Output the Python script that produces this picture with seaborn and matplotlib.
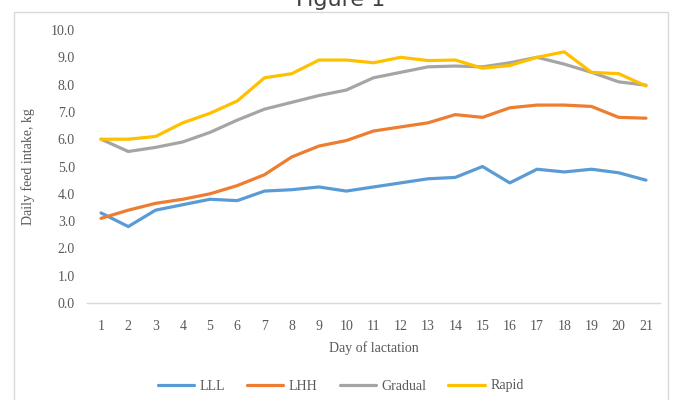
import numpy as np
import pandas as pd
import matplotlib
matplotlib.use("Agg")
import matplotlib.pyplot as plt
import seaborn as sns
from matplotlib.patches import Rectangle

days = list(range(1, 22))
lll = [3.3, 2.8, 3.4, 3.6, 3.8, 3.75, 4.1, 4.15, 4.25, 4.1, 4.25, 4.4, 4.55, 4.6, 5.0, 4.4, 4.9, 4.8, 4.9, 4.77, 4.5]
lhh = [3.1, 3.4, 3.65, 3.8, 4.0, 4.3, 4.7, 5.35, 5.75, 5.95, 6.3, 6.45, 6.6, 6.9, 6.8, 7.15, 7.25, 7.25, 7.2, 6.8, 6.77]
gradual = [6.0, 5.55, 5.7, 5.9, 6.25, 6.7, 7.1, 7.35, 7.6, 7.8, 8.25, 8.45, 8.65, 8.68, 8.65, 8.8, 9.0, 8.75, 8.45, 8.1, 7.98]
rapid = [6.0, 6.0, 6.1, 6.6, 6.95, 7.4, 8.25, 8.4, 8.9, 8.9, 8.8, 9.0, 8.88, 8.9, 8.6, 8.7, 9.0, 9.2, 8.45, 8.4, 7.95]
series_names = ["LLL", "LHH", "Gradual", "Rapid"]
colors = ["#5B9BD5", "#ED7D31", "#A5A5A5", "#FFC000"]
y_ticks = [0, 1, 2, 3, 4, 5, 6, 7, 8, 9, 10]

df = pd.DataFrame({
    "day": days * 4,
    "intake": lll + lhh + gradual + rapid,
    "group": sum([[n] * len(days) for n in series_names], []),
})

sns.set_theme(style="white")
plt.rcParams["font.family"] = ["Liberation Serif", "DejaVu Serif"]

fig = plt.figure(figsize=(6.81, 4.0), dpi=100)
fig.patch.set_facecolor("white")

# outer chart frame
fig.add_artist(Rectangle((14 / 681, -0.02), 654 / 681, (400 - 12) / 400 + 0.02,
                         transform=fig.transFigure, fill=False,
                         edgecolor="#D9D9D9", linewidth=1.0))

ax = fig.add_axes([87.4 / 681, (400 - 303) / 400, 572.2 / 681, 273 / 400])
sns.lineplot(data=df, x="day", y="intake", hue="group", hue_order=series_names,
             palette=colors, linewidth=2.3, ax=ax, legend=False)

ax.set_xlim(0.5, 21.5)
ax.set_ylim(0, 10)
ax.set_xticks(days)
ax.set_xticklabels([str(d) for d in days])
ax.set_yticks(y_ticks)
ax.set_yticklabels([f"{v:.1f}" for v in y_ticks])
ax.tick_params(axis="both", length=0, labelsize=10, labelcolor="#595959")
ax.tick_params(axis="x", pad=12)
ax.tick_params(axis="y", pad=9)
for side in ["top", "right", "left"]:
    ax.spines[side].set_visible(False)
ax.spines["bottom"].set_color("#D9D9D9")
ax.spines["bottom"].set_linewidth(1.0)
ax.grid(False)
ax.set_xlabel("Day of lactation", fontsize=10, color="#595959", labelpad=6)
ax.set_ylabel("Daily feed intake, kg", fontsize=10, color="#595959", labelpad=11)

handles = [plt.Line2D([0], [0], color=c, linewidth=2.3) for c in colors]
fig.legend(handles, series_names, loc="center", bbox_to_anchor=(0.5, (400 - 386) / 400),
           ncol=4, frameon=False, fontsize=10, handlelength=2.6, columnspacing=1.6,
           handletextpad=0.4, labelcolor="#595959")

fig.text(0.5, 1.0, "Figure 1", ha="center", va="center", fontsize=16,
         color="#404040", family=["DejaVu Sans"])

fig.savefig("out.png", dpi=100, facecolor="white")
